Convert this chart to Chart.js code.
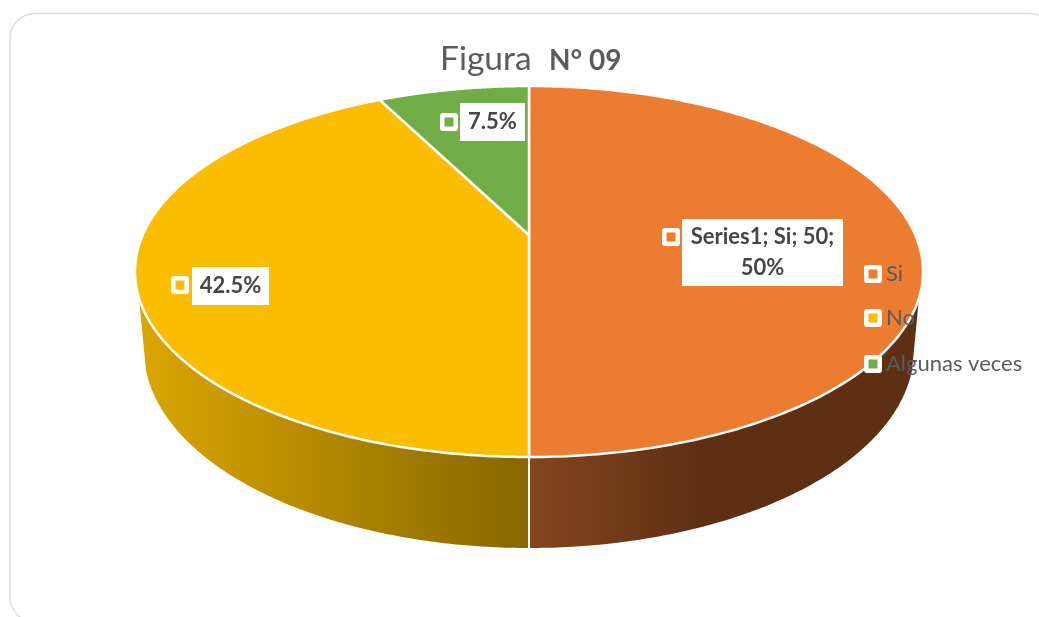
<!DOCTYPE html>
<html>
<head>
<meta charset="utf-8">
<title>Figura N° 09</title>
<script src="https://cdn.jsdelivr.net/npm/chart.js@4"></script>
<style>
    html, body { margin: 0; padding: 0; background: #fff; overflow: hidden; }
    canvas { display: block; }
</style>
</head>
<body>
<canvas id="pieChart" width="1039" height="617"></canvas>
<script>
// Data
var categories = ['Si', 'No', 'Algunas veces'];
var seriesName = 'Series1';
var seriesValues = [50, 42.5, 7.5];
var sliceColors = ['#EC7C30', '#FBBD00', '#70AD47'];

var FONT = 'Lato, "Open Sans", sans-serif';
var TEXT_DARK = '#444648';
var TEXT_GREY = '#595b5e';

// Perspective of the pie: centre of the top face sits above the middle of its ellipse
var APEX_X = 529, APEX_Y = 235;
var TILT = -0.1968, SPREAD_X = 386.3, SPREAD_Y = 178.3;
// Bottom rim of the wall
var FLOOR_Y = 350, FLOOR_RX = 385, FLOOR_RY = 198;
// Angles where the wall leaves the rim on each side
var TOP_EDGE = 0.336, FLOOR_EDGE = 0.1;

function projectTop(angle) {
    var u = Math.cos(angle), v = Math.sin(angle);
    var w = 1 + TILT * v;
    return { x: APEX_X + SPREAD_X * u / w, y: APEX_Y + SPREAD_Y * v / w };
}

function projectFloor(angle) {
    return { x: APEX_X + FLOOR_RX * Math.cos(angle), y: FLOOR_Y + FLOOR_RY * Math.sin(angle) };
}

function wallGradient(ctx, index) {
    var g;
    if (index === 0) {
        g = ctx.createLinearGradient(529, 0, 923, 0);
        g.addColorStop(0, '#85451e');
        g.addColorStop(0.45, '#5e2f13');
        g.addColorStop(1, '#5e2f13');
    } else {
        g = ctx.createLinearGradient(135, 0, 529, 0);
        g.addColorStop(0, '#dca700');
        g.addColorStop(1, '#866700');
    }
    return g;
}

function drawWall(ctx, arc, index) {
    // only the part of the rim that faces the viewer
    var from = Math.max(arc.startAngle, TOP_EDGE);
    var to = Math.min(arc.endAngle, Math.PI - TOP_EDGE);
    if (to <= from) return;
    var fFrom = Math.max(arc.startAngle, FLOOR_EDGE);
    var fTo = Math.min(arc.endAngle, Math.PI - FLOOR_EDGE);
    var steps = 120, i, p;
    ctx.beginPath();
    for (i = 0; i <= steps; i++) {
        p = projectTop(from + (to - from) * i / steps);
        if (i === 0) ctx.moveTo(p.x, p.y); else ctx.lineTo(p.x, p.y);
    }
    for (i = steps; i >= 0; i--) {
        p = projectFloor(fFrom + (fTo - fFrom) * i / steps);
        ctx.lineTo(p.x, p.y);
    }
    ctx.closePath();
    ctx.fillStyle = wallGradient(ctx, index);
    ctx.fill();
}

function drawTop(ctx, arc, color) {
    var steps = 240, i, p;
    ctx.beginPath();
    ctx.moveTo(APEX_X, APEX_Y);
    for (i = 0; i <= steps; i++) {
        p = projectTop(arc.startAngle + (arc.endAngle - arc.startAngle) * i / steps);
        ctx.lineTo(p.x, p.y);
    }
    ctx.closePath();
    ctx.fillStyle = color;
    ctx.fill();
    ctx.strokeStyle = '#fff';
    ctx.lineWidth = 2.5;
    ctx.lineJoin = 'round';
    ctx.stroke();
}

function drawMarker(ctx, cx, cy, color) {
    ctx.fillStyle = '#fff';
    ctx.beginPath();
    ctx.roundRect(cx - 9, cy - 9, 18, 18, 3);
    ctx.fill();
    ctx.fillStyle = color;
    ctx.fillRect(cx - 4.5, cy - 4.5, 9, 9);
}

function drawLabel(ctx, index, box, lines) {
    ctx.fillStyle = '#fff';
    ctx.fillRect(box.x, box.y, box.w, box.h);
    drawMarker(ctx, box.mx, box.my, sliceColors[index]);
    ctx.fillStyle = TEXT_DARK;
    ctx.font = 'bold 22px ' + FONT;
    ctx.textAlign = 'center';
    ctx.textBaseline = 'middle';
    var lineH = 31;
    var top = box.y + box.h / 2 - (lines.length - 1) * lineH / 2;
    lines.forEach(function (t, i) {
        ctx.fillText(t, box.x + box.w / 2, top + i * lineH);
    });
}

var labelBoxes = [
    { x: 682, y: 219, w: 161, h: 67, mx: 671, my: 237 },
    { x: 192, y: 267, w: 77, h: 38, mx: 180, my: 285 },
    { x: 460, y: 103, w: 65, h: 38, mx: 449, my: 122 }
];
var legendRows = [274, 318, 364];

var pie3d = {
    id: 'pie3d',
    beforeDraw: function (chart) {
        var ctx = chart.ctx;
        ctx.save();
        ctx.fillStyle = '#fff';
        ctx.fillRect(0, 0, chart.width, chart.height);
        ctx.strokeStyle = '#dbdbdb';
        ctx.lineWidth = 1.5;
        ctx.beginPath();
        ctx.roundRect(10, 13.5, 1045, 608.5, 25);
        ctx.stroke();
        ctx.restore();
    },
    beforeDatasetsDraw: function (chart) {
        var ctx = chart.ctx;
        var arcs = chart.getDatasetMeta(0).data;
        ctx.save();
        arcs.forEach(function (arc, i) { drawWall(ctx, arc, i); });
        // seam between the two walls
        ctx.strokeStyle = '#fff';
        ctx.lineWidth = 2;
        var a = arcs[0].endAngle, p = projectTop(a), q = projectFloor(a);
        ctx.beginPath();
        ctx.moveTo(p.x, p.y);
        ctx.lineTo(q.x, q.y);
        ctx.stroke();
        arcs.forEach(function (arc, i) { drawTop(ctx, arc, sliceColors[i]); });
        ctx.restore();
        return false;
    },
    afterDraw: function (chart) {
        var ctx = chart.ctx;
        var total = seriesValues.reduce(function (a, b) { return a + b; }, 0);
        ctx.save();

        // title, two weights on one line
        ctx.textBaseline = 'alphabetic';
        ctx.textAlign = 'left';
        ctx.fillStyle = TEXT_GREY;
        ctx.font = '33.5px ' + FONT;
        ctx.fillText('Figura', 440, 70);
        ctx.font = 'bold 28px ' + FONT;
        ctx.fillText('N° 09', 549, 70);

        // data labels
        drawLabel(ctx, 0, labelBoxes[0], [
            seriesName + '; ' + categories[0] + '; ' + seriesValues[0] + ';',
            (seriesValues[0] / total * 100) + '%'
        ]);
        drawLabel(ctx, 1, labelBoxes[1], [(seriesValues[1] / total * 100) + '%']);
        drawLabel(ctx, 2, labelBoxes[2], [(seriesValues[2] / total * 100) + '%']);

        // legend
        categories.forEach(function (name, i) {
            drawMarker(ctx, 873, legendRows[i], sliceColors[i]);
            ctx.fillStyle = TEXT_GREY;
            ctx.font = '22px ' + FONT;
            ctx.textAlign = 'left';
            ctx.textBaseline = 'middle';
            ctx.fillText(name, 886, legendRows[i]);
        });
        ctx.restore();
    }
};

var ctxPie = document.getElementById('pieChart').getContext('2d');
var pieChart = new Chart(ctxPie, {
    type: 'pie',
    data: {
        labels: categories,
        datasets: [{
            label: seriesName,
            data: seriesValues,
            backgroundColor: sliceColors
        }]
    },
    options: {
        responsive: false,
        animation: false,
        plugins: {
            legend: { display: false },
            tooltip: { enabled: false }
        }
    },
    plugins: [pie3d]
});
</script>
</body>
</html>
